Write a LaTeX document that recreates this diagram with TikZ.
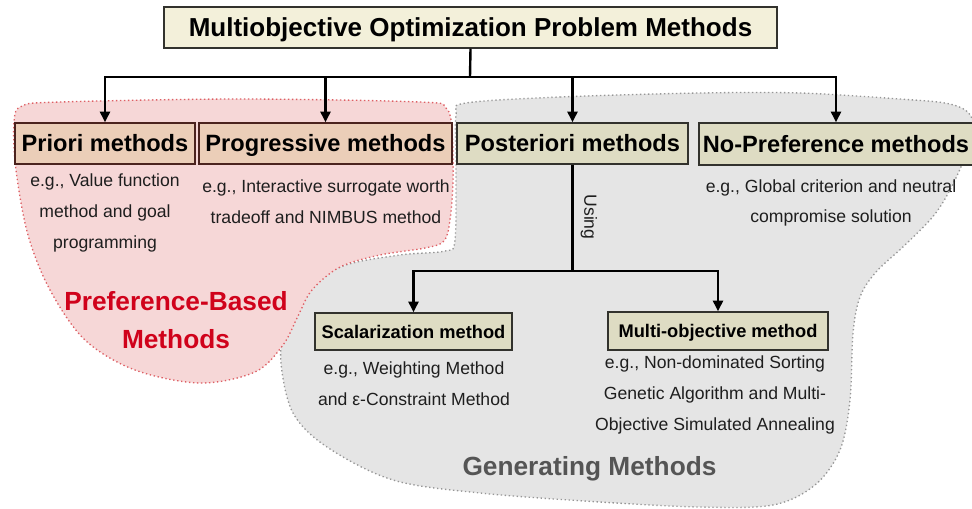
\documentclass[tikz,border=0pt]{standalone}
\usepackage{fontspec}
\setmainfont{Liberation Sans}
\usetikzlibrary{arrows.meta}

\definecolor{titlefill}{RGB}{243,240,218}
\definecolor{boxfill}{RGB}{222,220,195}
\definecolor{boxedge}{RGB}{50,50,45}
\definecolor{preffill}{RGB}{235,206,184}
\definecolor{prefedge}{RGB}{75,35,30}
\definecolor{prefblob}{RGB}{246,215,215}
\definecolor{prefdots}{RGB}{222,95,100}
\definecolor{genblob}{RGB}{229,229,229}
\definecolor{gendots}{RGB}{150,150,150}
\definecolor{preftext}{RGB}{208,2,27}
\definecolor{gentext}{RGB}{85,85,85}
\definecolor{desctext}{RGB}{30,30,30}

\begin{document}
\begin{tikzpicture}[x=0.75pt, y=-0.75pt]
    % Define styles
    \tikzstyle{topbox} = [rectangle, minimum width=459.75pt, minimum height=30.75pt, inner sep=0pt, text centered, draw=boxedge, fill=titlefill, line width=1.1pt, font=\fontsize{19.5}{23}\selectfont\bfseries, text height=14pt, text depth=0pt]
    \tikzstyle{method} = [rectangle, minimum height=30.75pt, inner sep=0pt, text centered, draw=boxedge, fill=boxfill, line width=1.1pt, font=\fontsize{17.7}{21}\selectfont\bfseries, text height=12.7pt, text depth=0pt]
    \tikzstyle{prefmethod} = [method, draw=prefedge, fill=preffill]
    \tikzstyle{submethod} = [method, minimum height=27.75pt, font=\fontsize{13.7}{16}\selectfont\bfseries, text height=9.8pt]
    \tikzstyle{desc} = [align=center, inner sep=0pt, text=desctext, font=\fontsize{13.2}{23}\selectfont]
    \tikzstyle{grouplabel} = [align=center, inner sep=0pt, font=\fontsize{19.7}{28}\selectfont\bfseries]
    \tikzstyle{line} = [line width=1.8pt]
    \tikzstyle{arrow} = [line, -{Triangle[width=7.5pt,length=8pt]}]

    \useasboundingbox (0,0) rectangle (972,508);
    \fill [white] (0,0) rectangle (972,508);

    % Background groups
    \draw [gendots, fill=genblob, line width=1pt, dotted] plot [smooth cycle, tension=0.55] coordinates {
        (466,103) (560,97) (700,93) (800,93) (900,99) (950,104) (971,116) (971,140)
        (955,180) (935,214) (905,245) (876,272) (860,297) (853,333) (850,400) (840,450)
        (815,485) (773,505) (700,507) (600,502) (480,493) (393,480) (327,447) (293,413)
        (281,363) (285,328) (303,292) (343,266) (400,255) (445,251) (455,240) (456,163) (456,115)};
    \draw [prefdots, fill=prefblob, line width=1pt, dotted] plot [smooth cycle, tension=0.55] coordinates {
        (22,106) (60,102) (240,99) (420,102) (446,108) (452,130) (453,180) (450,220)
        (444,241) (425,248) (380,255) (340,267) (312,290) (298,316) (283,345) (255,372)
        (200,383) (135,370) (85,340) (50,290) (28,235) (16,170) (14,122)};

    % Place nodes
    \node (title) [topbox] at (470.5,27.5) {Multiobjective Optimization Problem Methods};
    \node (priori) [prefmethod, minimum width=135pt] at (105,143.5) {Priori methods};
    \node (progressive) [prefmethod, minimum width=189.75pt] at (325.5,143.5) {Progressive methods};
    \node (posteriori) [method, minimum width=173.25pt] at (572.5,143.5) {Posteriori methods};
    \node (nopref) [method, minimum width=205.5pt, minimum height=31.5pt] at (836,144) {No-Preference methods};
    \node (scalar) [submethod, minimum width=147.75pt] at (413.5,331.5) {Scalarization method};
    \node (multi) [submethod, minimum width=165pt, minimum height=28.5pt] at (718,331) {Multi-objective method};

    % Examples under each box
    \node (prioridesc) [desc] at (105,213) {e.g., Value function\\method and goal\\programming};
    \node (progdesc) [desc] at (326,202) {e.g., Interactive surrogate worth\\tradeoff and NIMBUS method};
    \node (noprefdesc) [desc] at (831,203) {e.g., Global criterion and neutral\\compromise solution};
    \node (scalardesc) [desc] at (414,383.5) {e.g., Weighting Method\\and ε-Constraint Method};
    \node (multidesc) [desc] at (715,395) {e.g., Non-dominated Sorting\\Genetic Algorithm and Multi-\\Objective Simulated Annealing};
    \node (using) [desc, rotate=-90] at (589,217) {Using};

    % Group labels
    \node (preflabel) [grouplabel, text=preftext] at (176,320) {Preference-Based\\Methods};
    \node (genlabel) [grouplabel, text=gentext] at (589.5,469) {Generating Methods};

    % Draw arrows
    \coordinate (split) at (470,77);
    \coordinate (fork) at (572.5,271);
    \draw [line] (title.south) -- (split);
    \draw [arrow] (split) -| (priori.north);
    \draw [arrow] (split) -| (progressive.north);
    \draw [arrow] (split) -| (posteriori.north);
    \draw [arrow] (split) -| (nopref.north);
    \draw [line] (posteriori.south) -- (fork);
    \draw [arrow] (fork) -| (scalar.north);
    \draw [arrow] (fork) -| (multi.north);
\end{tikzpicture}
\end{document}
